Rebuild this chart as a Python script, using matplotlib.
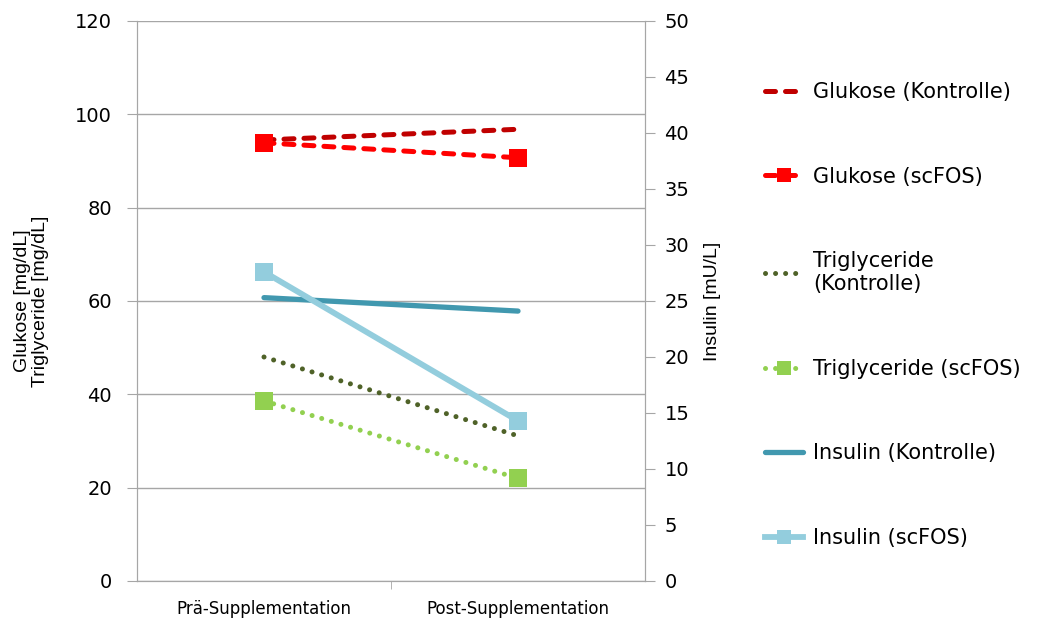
import matplotlib
matplotlib.use("Agg")
import matplotlib.pyplot as plt
from matplotlib.ticker import MultipleLocator, FixedLocator

# data
phases = ["Prä-Supplementation", "Post-Supplementation"]
glukose_kontrolle = [94.5, 96.8]
glukose_scfos = [93.9, 90.7]
trig_kontrolle = [48.0, 31.1]
trig_scfos = [38.6, 22.0]
insulin_kontrolle = [25.3, 24.1]
insulin_scfos = [27.6, 14.3]

plt.rcParams['font.family'] = ['DejaVu Sans']
GRID = '#A6A6A6'

fig = plt.figure(figsize=(10.5, 6.21), dpi=100)
ax = fig.add_axes([137/1050, 1-581/621, 508/1050, 560/621])
ax2 = ax.twinx()

x = range(len(phases))

l1, = ax.plot(x, glukose_kontrolle, color='#C00000', lw=3.6,
              linestyle=(0, (2, 2)), dash_capstyle='round')
l2, = ax.plot(x, glukose_scfos, color='#FF0000', lw=3.6,
              linestyle=(0, (2, 2)), dash_capstyle='round',
              marker='s', markersize=13, markeredgewidth=0)
l3, = ax.plot(x, trig_kontrolle, color='#4F6228', lw=3.6,
              linestyle=(0, (0.01, 2)), dash_capstyle='round')
l4, = ax.plot(x, trig_scfos, color='#92D050', lw=3.6,
              linestyle=(0, (0.01, 2)), dash_capstyle='round',
              marker='s', markersize=13, markeredgewidth=0)
l5, = ax2.plot(x, insulin_kontrolle, color='#4198AF', lw=3.8,
               solid_capstyle='round')
l6, = ax2.plot(x, insulin_scfos, color='#93CDDD', lw=4.2,
               marker='s', markersize=13, markeredgewidth=0)

ax.set_xlim(-0.5, 1.5)
ax.set_ylim(0, 120)
ax2.set_ylim(0, 50)
ax.yaxis.set_major_locator(MultipleLocator(20))
ax2.yaxis.set_major_locator(MultipleLocator(5))
ax.grid(axis='y', color=GRID, lw=1)
ax.set_axisbelow(True)

ax.set_xticks(list(x))
ax.set_xticklabels(phases, fontsize=12)
ax.xaxis.set_minor_locator(FixedLocator([0.5]))
ax.tick_params(axis='x', which='major', length=0, pad=14)
ax.tick_params(axis='x', which='minor', length=6, color=GRID, direction='out')
ax.tick_params(axis='y', length=7, color=GRID, labelsize=14, pad=11)
ax2.tick_params(axis='y', length=7, color=GRID, labelsize=14, pad=7)

for a in (ax, ax2):
    a.spines['top'].set_visible(False)
    for s in ('left', 'right', 'bottom'):
        a.spines[s].set_color(GRID)

ax.set_ylabel("Glukose [mg/dL]\nTriglyceride [mg/dL]", fontsize=14,
              family='Liberation Sans', va='center', linespacing=1.1)
ax.yaxis.set_label_coords(-0.207, 0.5)
ax2.set_ylabel("Insulin [mU/L]", fontsize=14, family='Liberation Sans',
               va='center')
ax2.yaxis.set_label_coords(1.132, 0.5)

fig.legend([l1, l2, l3, l4, l5, l6],
           ["Glukose (Kontrolle)", "Glukose (scFOS)", "Triglyceride\n(Kontrolle)",
            "Triglyceride (scFOS)", "Insulin (Kontrolle)", "Insulin (scFOS)"],
           loc='center left', bbox_to_anchor=(765/1050, 1-315/621),
           frameon=False, fontsize=15, labelspacing=3.1, handlelength=1.8,
           handletextpad=0.5, borderpad=0, borderaxespad=0, markerscale=0.8)

fig.savefig("out.png", dpi=100)
